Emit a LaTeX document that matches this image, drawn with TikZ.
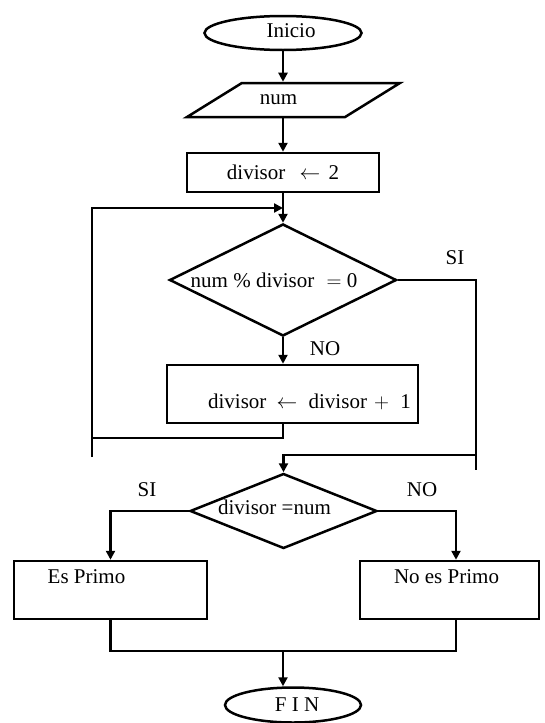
\documentclass[tikz,border=0pt]{standalone}
\usepackage{fontspec}
\setmainfont{Liberation Serif}
\usetikzlibrary{shapes.geometric,arrows.meta}

\begin{document}
\begin{tikzpicture}[x=1pt,y=-1pt,
        font=\fontsize{21}{25}\selectfont,
        every node/.style={inner sep=0pt},
        linea/.style={line width=2.5pt},
        flecha/.style={linea,-{Triangle[length=9pt,width=9pt]}},
        terminal/.style={draw,linea,ellipse},
        caja/.style={draw,linea,rectangle},
        io/.style={draw,linea,trapezium,inner sep=2pt,trapezium left angle=62,trapezium right angle=118,trapezium stretches=true},
        decision/.style={draw,linea,diamond}]
                \useasboundingbox (0,0) rectangle (544,723);
                % Inicio, lectura y asignacion
                \node[terminal,minimum width=157pt,minimum height=34pt,label={[xshift=8pt,yshift=2pt]center:Inicio}] (ini) at (283,33) {};
                \node[io,minimum width=213pt,minimum height=34pt,label={[xshift=-15pt]center:num}] (leer) at (293.5,100) {};
                \node[caja,minimum width=192pt,minimum height=39pt] (asig) at (283,172.5) {divisor\hspace{9pt} $\leftarrow$\hspace{3pt} 2};
                % Ciclo del divisor
                \node[decision,aspect=2,minimum width=227pt,minimum height=112pt,label={[xshift=-9pt]center:num \% divisor\hspace{7pt} $=$ 0}] (cond) at (283,280) {};
                \node[caja,minimum width=251pt,minimum height=58pt,label={[xshift=17pt,yshift=-8pt]center:divisor\hspace{5pt} $\leftarrow$\hspace{6pt} divisor\hspace{2pt} $+$\hspace{6pt} 1}] (inc) at (292.5,394) {};
                % Segunda pregunta y resultados
                \node[decision,aspect=2.5,minimum width=187pt,minimum height=75pt,label={[xshift=-9pt,yshift=4pt]center:divisor =num}] (cond2) at (283.5,511) {};
                \node[caja,minimum width=193pt,minimum height=58pt,label={[xshift=-24pt,yshift=13pt]center:Es Primo}] (esp) at (110.5,590) {};
                \node[caja,minimum width=179pt,minimum height=58pt,label={[xshift=-3pt,yshift=13pt]center:No es Primo}] (nop) at (449.5,590) {};
                \node[terminal,minimum width=136pt,minimum height=35pt,label={[xshift=4pt]center:F I N}] (fin) at (293,705) {};
                % Etiquetas de las ramas
                \node (si1) at (455,258) {SI};
                \node (no1) at (325,349) {NO};
                \node (si2) at (147,490) {SI};
                \node (no2) at (422,490) {NO};
                % Puntos de las lineas de retorno
                \coordinate (izq) at (92,438);
                \coordinate (izqbajo) at (92,457);
                \coordinate (entrada) at (283,208);
                \coordinate (der) at (476,455);
                \coordinate (derbajo) at (476,470);
                \coordinate (union) at (283,651);
                % Conectores
                \draw[flecha] (ini.south) -- (ini.south |- leer.north);
                \draw[flecha] (ini.south |- leer.south) -- (asig.north);
                \draw[flecha] (asig.south) -- (cond.north);
                \draw[flecha] (cond.south) -- (cond.south |- inc.north);
                \draw[linea] (cond.south |- inc.south) |- (izq);
                \draw[flecha] (izqbajo) |- (entrada);
                \draw[linea] (cond.east) -| (derbajo);
                \draw[flecha] (der) -| (cond2.north);
                \draw[flecha] (cond2.west) -| (esp.north);
                \draw[flecha] (cond2.east) -| ([xshift=6.5pt]nop.north);
                \draw[linea] (esp.south) |- (union) -| ([xshift=6.5pt]nop.south);
                \draw[flecha] (union) -- (union |- fin.north);
            \end{tikzpicture}
\end{document}
